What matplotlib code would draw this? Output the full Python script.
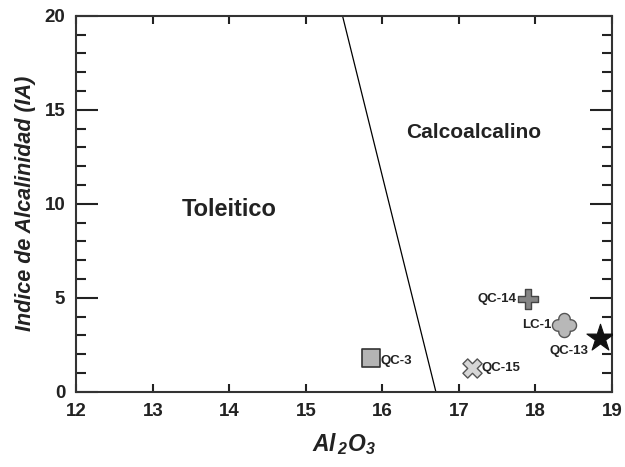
import numpy as np
import matplotlib.pyplot as plt
from matplotlib.path import Path
from matplotlib.ticker import MultipleLocator

plt.rcParams["font.family"] = ["Liberation Sans", "DejaVu Sans"]
plt.rcParams["mathtext.fontset"] = "custom"
plt.rcParams["mathtext.it"] = "Liberation Sans:italic:bold"
plt.rcParams["mathtext.rm"] = "Liberation Sans:italic:bold"
plt.rcParams["mathtext.bf"] = "Liberation Sans:italic:bold"

# samples
labels = ["QC-3", "QC-15", "QC-14", "LC-1", "QC-13"]
al2o3 = [15.85, 17.17, 17.90, 18.38, 18.85]
ia = [1.82, 1.29, 4.93, 3.56, 2.86]

# dividing line tholeiitic / calc-alkaline
div_x = [15.48, 16.70]
div_y = [20, 0]


def clover_marker(d=0.55, a=0.5, n=240):
    # outline of four overlapping discs placed on the axes
    th = np.linspace(0, 2 * np.pi, n)
    r = np.zeros_like(th)
    for phi in (0, np.pi / 2, np.pi, 1.5 * np.pi):
        s = d * np.sin(th - phi)
        ok = a ** 2 >= s ** 2
        hit = np.where(ok, d * np.cos(th - phi) + np.sqrt(np.clip(a ** 2 - s ** 2, 0, None)), 0)
        r = np.maximum(r, hit)
    return Path(np.column_stack([r * np.cos(th), r * np.sin(th)]))


styles = {
    "QC-3": dict(marker="s", s=150, fc="#b4b4b4", ec="#333333", lw=1.2),
    "QC-15": dict(marker="X", s=190, fc="#d6d6d6", ec="#555555", lw=1.0),
    "QC-14": dict(marker="P", s=220, fc="#858585", ec="#444444", lw=1.0),
    "LC-1": dict(marker=clover_marker(), s=300, fc="#b8b8b8", ec="#555555", lw=1.0),
    "QC-13": dict(marker="*", s=420, fc="#111111", ec="#111111", lw=0.8),
}

fig, ax = plt.subplots(figsize=(6.25, 4.67), dpi=100)
fig.subplots_adjust(left=0.122, right=0.979, top=0.966, bottom=0.161)

ax.plot(div_x, div_y, "k-", lw=0.9)

for lab, x, y in zip(labels, al2o3, ia):
    ax.scatter([x], [y], zorder=3, **styles[lab])

fs = 9.5
c = "#222222"
ax.text(al2o3[0] + 0.12, ia[0] - 0.2, "QC-3", fontsize=fs, weight="bold", va="center", color=c)
ax.text(al2o3[1] + 0.13, ia[1], "QC-15", fontsize=fs, weight="bold", va="center", color=c)
ax.text(al2o3[2] - 0.15, ia[2], "QC-14", fontsize=fs, weight="bold", va="center", ha="right", color=c)
ax.text(al2o3[3] - 0.17, ia[3], "LC-1", fontsize=fs, weight="bold", va="center", ha="right", color=c)
ax.text(al2o3[4] - 0.16, ia[4] - 0.7, "QC-13", fontsize=fs, weight="bold", va="center", ha="right", color=c)

ax.text(14.0, 9.7, "Toleitico", fontsize=17, weight="bold", ha="center", va="center", color=c)
ax.text(17.2, 13.8, "Calcoalcalino", fontsize=15, weight="bold", ha="center", va="center", color=c)

ax.set_xlim(12, 19)
ax.set_ylim(0, 20)
ax.xaxis.set_major_locator(MultipleLocator(1))
ax.yaxis.set_major_locator(MultipleLocator(5))
ax.yaxis.set_minor_locator(MultipleLocator(1))

ax.tick_params(axis="both", which="both", direction="in", top=True, right=True, width=1.5, color=c)
ax.tick_params(axis="x", which="major", length=6, pad=8)
ax.tick_params(axis="y", which="major", length=16, pad=8)
ax.tick_params(axis="y", which="minor", length=7)
for lbl in ax.get_xticklabels() + ax.get_yticklabels():
    lbl.set_fontsize(13.5)
    lbl.set_fontweight("bold")
    lbl.set_color(c)

for sp in ax.spines.values():
    sp.set_linewidth(1.5)
    sp.set_color("#333333")

ax.set_ylabel("Indice de Alcalinidad (IA)", fontsize=15.5, weight="bold", style="italic", labelpad=6, color=c)
ax.set_xlabel("$Al_{\\,2}O_{3}$", fontsize=16.5, labelpad=8, color=c)

plt.savefig("out.png", dpi=100)
